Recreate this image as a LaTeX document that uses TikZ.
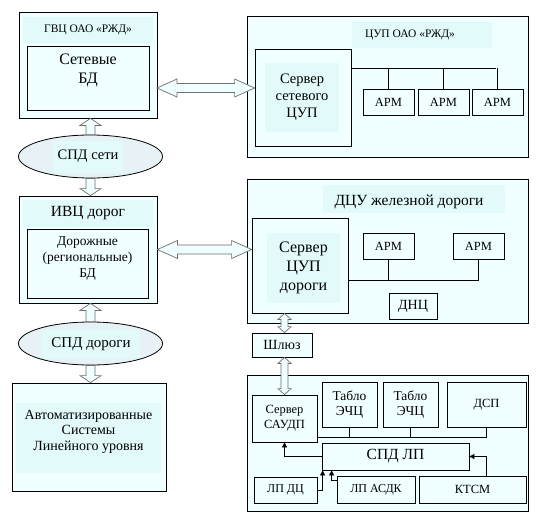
\documentclass[tikz,border=0pt]{standalone}
\usepackage{fontspec}
\setmainfont{Liberation Serif}
\usetikzlibrary{arrows.meta, positioning, calc, shapes.geometric}
\definecolor{boxFill}{HTML}{F0FFFF}
\definecolor{bandFill}{HTML}{E2FAFA}
\definecolor{ovalFill}{HTML}{E6F2F5}
\definecolor{arrGray}{HTML}{6E6E6E}

\begin{document}
\begin{tikzpicture}[x=1pt, y=-1pt, line width=0.8pt, font=\rmfamily,
  wh/.style 2 args={minimum width=#1pt, minimum height=#2pt},
  box/.style={draw, fill=boxFill, inner sep=0pt, align=center},
  band/.style={fill=bandFill, inner sep=0pt, align=center},
  oval/.style={draw, ellipse, fill=ovalFill, inner sep=0pt},
  fS/.style={font=\fontsize{11.5}{13}\selectfont},
  fT/.style={font=\fontsize{12}{14}\selectfont},
  fM/.style={font=\fontsize{12.5}{15}\selectfont},
  fL/.style={font=\fontsize{14.5}{17}\selectfont},
  % block arrow: shaft half width / head half width / head length
  blk/.style args={#1/#2/#3}{draw=arrGray, fill=boxFill, line width=0.7pt, to path={
    ($(\tikztotarget)!#3!(\tikztostart)$) coordinate (hb)
    ($(\tikztostart)!#1!90:(\tikztotarget)$) -- ($(hb)!#1!-90:(\tikztostart)$)
    -- ($(hb)!#2!-90:(\tikztostart)$) -- (\tikztotarget) -- ($(hb)!#2!90:(\tikztostart)$)
    -- ($(hb)!#1!90:(\tikztostart)$) -- ($(\tikztostart)!#1!-90:(\tikztotarget)$) -- cycle}},
  dblk/.style args={#1/#2/#3}{draw=arrGray, fill=boxFill, line width=0.7pt, to path={
    ($(\tikztostart)!#3!(\tikztotarget)$) coordinate (ha)
    ($(\tikztotarget)!#3!(\tikztostart)$) coordinate (hb)
    (\tikztostart) -- ($(ha)!#2!90:(\tikztotarget)$) -- ($(ha)!#1!90:(\tikztotarget)$)
    -- ($(hb)!#1!-90:(\tikztostart)$) -- ($(hb)!#2!-90:(\tikztostart)$) -- (\tikztotarget)
    -- ($(hb)!#2!90:(\tikztostart)$) -- ($(hb)!#1!90:(\tikztostart)$)
    -- ($(ha)!#1!-90:(\tikztotarget)$) -- ($(ha)!#2!-90:(\tikztotarget)$) -- cycle}},
  tip/.style={-{Triangle[length=5pt, width=5pt]}}]
  \useasboundingbox (0,0) rectangle (537,522);

  % left column: computing centres and networks
  \node[box, wh={138}{106}] (gvc) at (88,65) {};
  \node[band, wh={130}{26}, fS] (gvcTitle) at (88,30) {ГВЦ ОАО «РЖД»};
  \node[box, wh={122}{64}] (gvcDb) at (88,78) {};
  \node[align=center, font=\fontsize{16}{19}\selectfont] (gvcDbText) at (88,70.5) {Сетевые\\БД};

  \node[oval, wh={144}{43}] (spdNet) at (90.5,156.5) {};
  \node[band, wh={70}{32}, fL] (spdNetText) at (88,156.5) {СПД сети};

  \node[box, wh={138}{107}] (ivc) at (88,249.5) {};
  \node[band, wh={130}{27}, font=\fontsize{15.5}{18}\selectfont] (ivcTitle) at (88,213.5) {ИВЦ дорог};
  \node[box, wh={121}{69}] (ivcDb) at (87.5,263.5) {};
  \node[align=center, font=\fontsize{13.5}{16}\selectfont] (ivcDbText) at (87.5,259) {Дорожные\\(региональные)\\БД};

  \node[oval, wh={144}{43}] (spdRoad) at (90.5,343.5) {};
  \node[band, wh={98}{28}, font=\fontsize{15}{17}\selectfont] (spdRoadText) at (91,344) {СПД дороги};

  \node[box, wh={154}{108}] (auto) at (89,437) {};
  \node[band, wh={145}{70}] (autoBand) at (88.5,438) {};
  \node[align=center, font=\fontsize{14}{15.5}\selectfont] (autoText) at (88.5,431.5)
    {Автоматизированные\\Системы\\Линейного уровня};

  % block arrows of the left column
  \draw[blk=4.5pt/10.5pt/7pt] (spdNet.north) to (spdNet.north |- gvc.south);
  \draw[blk=4.5pt/10.5pt/7pt] (spdNet.south) to (spdNet.south |- ivc.north);
  \draw[blk=4.5pt/10.5pt/7pt] (spdRoad.north) to (spdRoad.north |- ivc.south);
  \draw[blk=4.5pt/10.5pt/7pt] (spdRoad.south) to (spdRoad.south |- auto.north);

  % ЦУП ОАО «РЖД»
  \node[box, wh={281}{141}] (cup) at (387.5,86.5) {};
  \node[band, wh={140}{26}] (cupTitle) at (422,35) {};
  \node[fS] (cupTitleText) at (410,35) {ЦУП ОАО «РЖД»};
  \node[box, wh={96}{97}] (cupSrv) at (303,97.5) {};
  \node[band, wh={74}{69}, fL] (cupSrvText) at (302,97) {Сервер\\сетевого\\ЦУП};
  \foreach \i/\x in {1/388.5, 2/443.5, 3/497.5}
    \node[box, wh={51}{26}, fM] (arm\i) at (\x,102) {АРМ};
  \coordinate (cupBus) at (496,68);
  \draw (cupSrv.east |- cupBus) -- (cupBus);
  \foreach \i in {1,2,3}
    \draw (arm\i.north) -- (arm\i.north |- cupBus);

  % ДЦУ железной дороги
  \node[box, wh={281}{144}] (dcu) at (387.5,251) {};
  \node[band, wh={182}{28}] (dcuTitle) at (414,199) {};
  \node[font=\fontsize{15.5}{18}\selectfont] (dcuTitleText) at (409,201.5) {ДЦУ железной дороги};
  \node[box, wh={96}{95}] (dcuSrv) at (300,265.5) {};
  \node[band, wh={73}{70}, font=\fontsize{16}{19}\selectfont] (dcuSrvText) at (303.5,268) {Сервер\\ЦУП\\дороги};
  \node[box, wh={51}{26}, fM] (armD1) at (388.5,246) {АРМ};
  \node[box, wh={51}{26}, fM] (armD2) at (478.5,246) {АРМ};
  \node[box, wh={48}{26}, font=\fontsize{14}{16}\selectfont] (dnc) at (413,306) {ДНЦ};
  \coordinate (dcuBus) at (478.5,280);
  \draw (dcuSrv.east |- dcuBus) -- (dcuBus) -- (armD2.south);
  \draw (armD1.south) -- (armD1.south |- dcuBus);

  % links between the columns
  \coordinate (netLink) at (157,88);
  \draw[dblk=4.5pt/9pt/20pt] (netLink) to (netLink -| cupSrv.west);
  \draw[dblk=4.5pt/9pt/20pt] (ivc.east) to (ivc.east -| dcuSrv.west);

  % linear level
  \node[box, wh={281}{136}] (lin) at (387.5,443) {};
  \node[box, wh={65}{47}, font=\fontsize{12.5}{15}\selectfont] (sau) at (284.5,418.5) {Сервер\\САУДП};
  \node[box, wh={55}{45}, font=\fontsize{13.5}{15}\selectfont] (tablo1) at (349.5,404.5) {Табло\\ЭЧЦ};
  \node[box, wh={55}{45}, font=\fontsize{13.5}{15}\selectfont] (tablo2) at (410.5,404.5) {Табло\\ЭЧЦ};
  \node[box, wh={79}{45}, fM] (dsp) at (486.5,404.5) {ДСП};
  \node[box, wh={147}{27}, font=\fontsize{15.5}{17}\selectfont] (spdLp) at (395.5,456.5) {СПД ЛП};
  \node[box, wh={63}{26}, fT] (lpdc) at (285.5,490) {ЛП ДЦ};
  \node[box, wh={78}{27}, fT] (lpasdk) at (376,489.5) {ЛП АСДК};
  \node[box, wh={107}{27}, fM] (ktsm) at (472.5,489.5) {КТСМ};

  \coordinate (linBus) at (486.5,437);
  \draw (sau.east |- linBus) -- (linBus) -- (dsp.south);
  \foreach \n in {tablo1, tablo2}
    \draw (\n.south) -- (\n.south |- linBus);
  \draw[tip] (spdLp.west) -| (sau.south);
  \draw[tip] (lpdc.east) -| ($(spdLp.south west)+(1,0)$);
  \draw[tip] ($(lpasdk.north west)+(0,5)$) -| ($(spdLp.south west)+(10,0)$);
  \draw[tip] (ktsm.north -| dsp.south) |- (spdLp.east);

  % Шлюз
  \node[box, wh={60}{24}, font=\fontsize{14}{16}\selectfont] (gate) at (282,345) {Шлюз};
  \draw[dblk=3.5pt/6.5pt/6pt] (dcuSrv.south -| sau.north) to (gate.north -| sau.north);
  \draw[dblk=3.5pt/6.5pt/6pt] (gate.south -| sau.north) to (sau.north);
\end{tikzpicture}
\end{document}
